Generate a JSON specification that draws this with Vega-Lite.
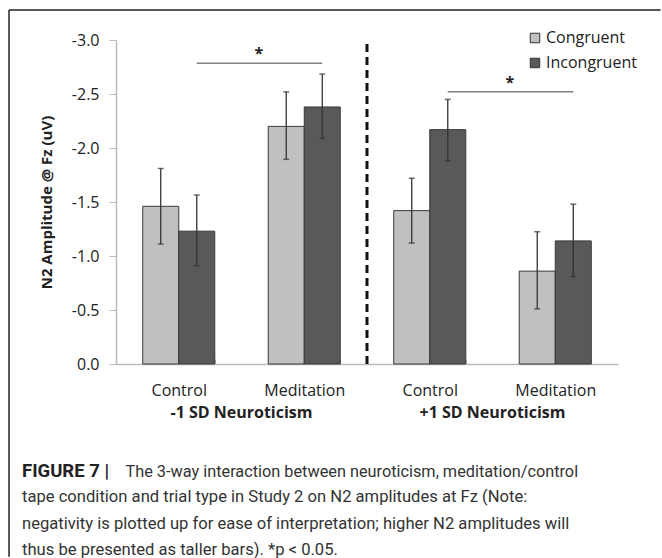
{
  "$schema": "https://vega.github.io/schema/vega-lite/v6.json",
  "width": 502,
  "height": 324,
  "autosize": {"type": "none"},
  "padding": {"left": 116, "top": 40, "right": 44, "bottom": 194},
  "background": "white",
  "config": {"view": {"stroke": null}, "font": "Open Sans"},
  "title": {
    "text": "FIGURE 7 |",
    "subtitle": [
      "tape condition and trial type in Study 2 on N2 amplitudes at Fz (Note:",
      "negativity is plotted up for ease of interpretation; higher N2 amplitudes will",
      "thus be presented as taller bars). *p < 0.05."
    ],
    "orient": "bottom",
    "anchor": "start",
    "frame": "group",
    "dx": -94,
    "offset": -96,
    "font": "Roboto",
    "fontSize": 18.5,
    "fontWeight": "bold",
    "color": "#222222",
    "subtitleFont": "Roboto",
    "subtitleFontSize": 16.6,
    "subtitleFontWeight": "normal",
    "subtitleColor": "#333333",
    "subtitleLineHeight": 26.5,
    "subtitlePadding": 9
  },
  "datasets": {
    "bars": [
      {"cat": "-1 SD Neuroticism|Control", "trial": "Congruent", "value": -1.46, "lo": -1.11, "hi": -1.81},
      {"cat": "-1 SD Neuroticism|Control", "trial": "Incongruent", "value": -1.23, "lo": -0.91, "hi": -1.565},
      {"cat": "-1 SD Neuroticism|Meditation", "trial": "Congruent", "value": -2.2, "lo": -1.895, "hi": -2.52},
      {"cat": "-1 SD Neuroticism|Meditation", "trial": "Incongruent", "value": -2.38, "lo": -2.09, "hi": -2.685},
      {"cat": "+1 SD Neuroticism|Control", "trial": "Congruent", "value": -1.42, "lo": -1.12, "hi": -1.72},
      {"cat": "+1 SD Neuroticism|Control", "trial": "Incongruent", "value": -2.17, "lo": -1.88, "hi": -2.45},
      {"cat": "+1 SD Neuroticism|Meditation", "trial": "Congruent", "value": -0.86, "lo": -0.51, "hi": -1.225},
      {"cat": "+1 SD Neuroticism|Meditation", "trial": "Incongruent", "value": -1.14, "lo": -0.81, "hi": -1.48}
    ],
    "sig": [
      {"from": "-1 SD Neuroticism|Control", "to": "-1 SD Neuroticism|Meditation", "level": -2.785, "label": "*"},
      {"from": "+1 SD Neuroticism|Control", "to": "+1 SD Neuroticism|Meditation", "level": -2.52, "label": "*"}
    ],
    "groups": [
      {"group": "-1 SD Neuroticism"},
      {"group": "+1 SD Neuroticism"}
    ]
  },
  "layer": [
    {
      "layer": [
        {
          "data": {"name": "bars"},
          "mark": {"type": "bar", "stroke": "#3a3a3a", "strokeWidth": 1},
          "encoding": {
            "x": {
              "field": "cat",
              "type": "nominal",
              "sort": null,
              "scale": {
                "domain": ["-1 SD Neuroticism|Control", "-1 SD Neuroticism|Meditation", "+1 SD Neuroticism|Control", "+1 SD Neuroticism|Meditation"],
                "paddingInner": 0.426,
                "paddingOuter": 0.213
              },
              "axis": {
                "title": "The 3-way interaction between neuroticism, meditation/control",
                "titleX": 9,
                "titleY": 112,
                "titleAlign": "left",
                "titleBaseline": "alphabetic",
                "titleFont": "Roboto",
                "titleFontSize": 16.3,
                "titleFontWeight": "normal",
                "titleColor": "#333333",
                "labelExpr": "split(datum.label, '|')[1]",
                "labelFontSize": 16,
                "labelColor": "#222222",
                "labelPadding": 23,
                "labelAngle": 0,
                "tickBand": "extent",
                "tickSize": -5,
                "tickColor": "#bbbbbb",
                "domainColor": "#bbbbbb",
                "domainWidth": 1.5,
                "grid": false
              }
            },
            "xOffset": {
              "field": "trial",
              "type": "nominal",
              "scale": {"domain": ["Congruent", "Incongruent"], "paddingInner": 0, "paddingOuter": 0}
            },
            "y": {
              "field": "value",
              "type": "quantitative",
              "scale": {"domain": [0, -3], "nice": false, "zero": false},
              "axis": {
                "values": [0, -0.5, -1, -1.5, -2, -2.5, -3],
                "labelExpr": "replace(format(datum.value, '.1f'), '\u2212', '-')",
                "labelFontSize": 16,
                "labelColor": "#222222",
                "labelPadding": 10,
                "tickSize": 7,
                "tickColor": "#bbbbbb",
                "domainColor": "#bbbbbb",
                "domainWidth": 1.5,
                "grid": false,
                "title": "N2 Amplitude @ Fz (uV)",
                "titleFontSize": 15,
                "titleFontWeight": "bold",
                "titleColor": "#222222",
                "titlePadding": 17
              }
            },
            "color": {
              "field": "trial",
              "type": "nominal",
              "scale": {"domain": ["Congruent", "Incongruent"], "range": ["#c0c0c0", "#595959"]},
              "legend": {
                "orient": "none",
                "legendX": 411,
                "legendY": -10,
                "title": null,
                "symbolType": "square",
                "symbolSize": 90,
                "symbolStrokeColor": "#333333",
                "symbolStrokeWidth": 1,
                "labelFontSize": 16,
                "labelFont": "Open Sans",
                "labelColor": "#222222",
                "labelOffset": 3,
                "rowPadding": 9,
                "padding": 0
              }
            }
          }
        },
        {
          "data": {"name": "bars"},
          "mark": {"type": "rule", "color": "#333333", "strokeWidth": 1.3},
          "encoding": {
            "x": {"field": "cat", "type": "nominal", "sort": null},
            "xOffset": {"field": "trial", "type": "nominal"},
            "y": {"field": "lo", "type": "quantitative"},
            "y2": {"field": "hi"}
          }
        },
        {
          "data": {"name": "bars"},
          "mark": {"type": "tick", "color": "#333333", "size": 6, "thickness": 1.5, "orient": "horizontal"},
          "encoding": {
            "x": {"field": "cat", "type": "nominal", "sort": null},
            "xOffset": {"field": "trial", "type": "nominal"},
            "y": {"field": "lo", "type": "quantitative"}
          }
        },
        {
          "data": {"name": "bars"},
          "mark": {"type": "tick", "color": "#333333", "size": 6, "thickness": 1.5, "orient": "horizontal"},
          "encoding": {
            "x": {"field": "cat", "type": "nominal", "sort": null},
            "xOffset": {"field": "trial", "type": "nominal"},
            "y": {"field": "hi", "type": "quantitative"}
          }
        },
        {
          "data": {"name": "sig"},
          "mark": {"type": "rule", "color": "#808080", "strokeWidth": 1.5, "xOffset": 18, "x2Offset": 18},
          "encoding": {
            "x": {"field": "from", "type": "nominal", "sort": null},
            "x2": {"field": "to"},
            "y": {"field": "level", "type": "quantitative"}
          }
        },
        {
          "data": {"name": "sig"},
          "mark": {"type": "text", "fontSize": 16, "fontWeight": "bold", "color": "#222222", "dx": 80, "dy": -9, "baseline": "middle"},
          "encoding": {
            "x": {"field": "from", "type": "nominal", "sort": null},
            "y": {"field": "level", "type": "quantitative"},
            "text": {"field": "label"}
          }
        }
      ]
    },
    {
      "layer": [
        {
          "data": {"name": "groups"},
          "mark": {"type": "text", "fontSize": 16, "fontWeight": "bold", "color": "#222222", "dy": 49, "baseline": "middle"},
          "encoding": {
            "x": {
              "field": "group",
              "type": "nominal",
              "sort": null,
              "scale": {"domain": ["-1 SD Neuroticism", "+1 SD Neuroticism"], "paddingInner": 0, "paddingOuter": 0},
              "axis": null
            },
            "y": {"datum": 0, "type": "quantitative"},
            "text": {"field": "group"}
          }
        },
        {
          "data": {"values": [{}]},
          "mark": {"type": "rule", "color": "#111111", "strokeWidth": 3, "strokeDash": [8, 5]},
          "encoding": {
            "x": {"datum": "+1 SD Neuroticism", "type": "nominal", "bandPosition": 0},
            "y": {"datum": 0, "type": "quantitative"},
            "y2": {"datum": -3}
          }
        }
      ]
    },
    {
      "layer": [
        {
          "data": {"values": [{}]},
          "mark": {"type": "rule", "color": "#222222", "strokeWidth": 1.5},
          "encoding": {
            "x": {"datum": -0.2131, "type": "quantitative", "scale": {"domain": [0, 1], "nice": false, "zero": false}, "axis": null},
            "y": {"datum": -3.278, "type": "quantitative"},
            "y2": {"datum": 1.785}
          }
        },
        {
          "data": {"values": [{}]},
          "mark": {"type": "rule", "color": "#222222", "strokeWidth": 1.5},
          "encoding": {
            "x": {"datum": -0.2131, "type": "quantitative"},
            "x2": {"datum": 1.085},
            "y": {"datum": -3.278, "type": "quantitative"}
          }
        }
      ]
    }
  ],
  "resolve": {"scale": {"x": "independent"}}
}
